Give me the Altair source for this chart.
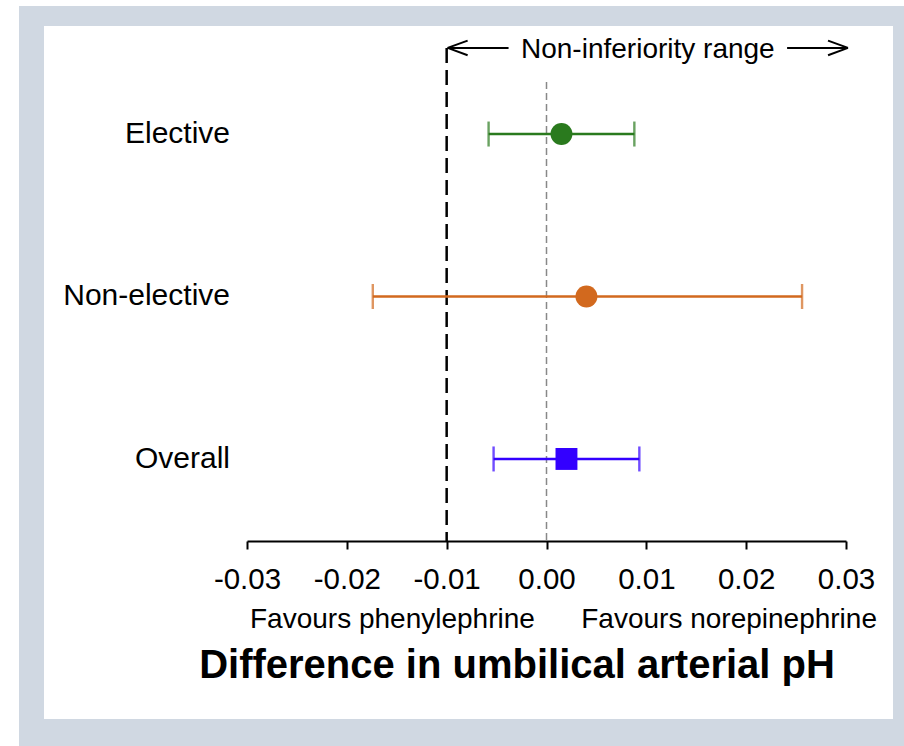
import altair as alt
import pandas as pd

# ---------------- data ----------------
groups = ["Elective", "Non-elective", "Overall"]
estimates = [0.0015, 0.0040, 0.0020]
lower = [-0.0058, -0.0174, -0.0053]
upper = [0.0088, 0.0256, 0.0093]
colors = ["#2a7a1e", "#d2691e", "#3300ff"]
shapes = ["circle", "circle", "square"]
x_ticks = [-0.03, -0.02, -0.01, 0.00, 0.01, 0.02, 0.03]
margin = -0.01
range_label = "Non-inferiority range"
favour_labels = ["Favours phenylephrine", "Favours norepinephrine"]
x_title = "Difference in umbilical arterial pH"

# ---------------- layout ----------------
FONT = "Liberation Sans"
W, H = 599, 515
LEFT, TOP, RIGHT, BOTTOM = 247, 26, 58, 205
ROW_MIN, ROW_MAX = 0.495, 3.665
ARROW_ROW = 3.53
ZERO_TOP = 3.32

xs = alt.Scale(domain=[x_ticks[0], x_ticks[-1]], nice=False, zero=False)
ys = alt.Scale(domain=[ROW_MIN, ROW_MAX], nice=False, zero=False)

x_axis = alt.Axis(
    values=x_ticks,
    labelExpr="(datum.value < 0 ? '-' : '') + format(abs(datum.value), '.2f')",
    title=x_title,
    grid=False,
    zindex=1,
    domainColor="black", domainWidth=2,
    tickColor="black", tickWidth=2, tickSize=8,
    labelFontSize=29.5, labelColor="black", labelPadding=16,
    labelFont=FONT, labelFlush=False,
    titleFont=FONT, titleFontSize=40, titleFontWeight="bold",
    titleColor="black",
    titleX=269.5, titleY=124, titleAlign="center", titleBaseline="middle",
    titleAnchor="start",
)


def X(field):
    return alt.X(field, scale=xs, axis=x_axis)


def Y(field):
    return alt.Y(field, scale=ys, axis=None)


n = len(groups)
df = pd.DataFrame({
    "group": groups,
    "est": estimates,
    "lo": lower,
    "hi": upper,
    "row": [n - i for i in range(n)],
})

color = alt.Color("group:N", scale=alt.Scale(domain=groups, range=colors), legend=None)

# background frame (gray) and white panel
bg = alt.Chart(alt.Data(values=[{}])).mark_rect(color="#d0d8e2").encode(
    x=alt.value(19 - LEFT), x2=alt.value(904 - LEFT),
    y=alt.value(6 - TOP), y2=alt.value(746 - TOP),
)
panel = alt.Chart(alt.Data(values=[{}])).mark_rect(color="white").encode(
    x=alt.value(44 - LEFT), x2=alt.value(893 - LEFT),
    y=alt.value(0), y2=alt.value(719 - TOP),
)

base = alt.Chart(df)

ci = base.mark_rule(strokeWidth=2.4).encode(
    x=X("lo:Q"), x2="hi:Q", y=Y("row:Q"), color=color,
)

caps = base.transform_fold(["lo", "hi"], as_=["end", "xv"]).mark_tick(
    orient="vertical", size=25, thickness=2.4
).encode(x=X("xv:Q"), y=Y("row:Q"), color=color)

points = base.mark_point(filled=True, opacity=1).encode(
    x=X("est:Q"), y=Y("row:Q"), color=color,
    shape=alt.Shape("group:N", scale=alt.Scale(domain=groups, range=shapes), legend=None),
    size=alt.Size("group:N", scale=alt.Scale(domain=groups, range=[480, 480, 335]), legend=None),
)

cat_labels = base.mark_text(align="right", baseline="middle", fontSize=30,
                            font=FONT, color="black").encode(
    x=alt.value(-17), y=Y("row:Q"), text="group:N",
)

# reference lines
ref = pd.DataFrame({
    "x": [margin, 0.0],
    "y": [ARROW_ROW, ZERO_TOP],
    "y2": [ROW_MIN, ROW_MIN],
})
margin_line = alt.Chart(ref.iloc[[0]]).mark_rule(
    color="black", strokeWidth=2.5, strokeDash=[15, 7]
).encode(x=X("x:Q"), y=Y("y:Q"), y2="y2:Q")
zero_line = alt.Chart(ref.iloc[[1]]).mark_rule(
    color="#888888", strokeWidth=1.5, strokeDash=[7, 4]
).encode(x=X("x:Q"), y=Y("y:Q"), y2="y2:Q")

# arrows of the non-inferiority range
l_tip, l_end = margin + 0.0001, -0.0038
r_start, r_tip = 0.0241, 0.0302
hx, hy = 0.002, 0.045
arrows = pd.DataFrame({
    "x":  [l_tip, l_tip, l_tip, r_start, r_tip, r_tip],
    "x2": [l_end, l_tip + hx, l_tip + hx, r_tip, r_tip - hx, r_tip - hx],
    "y":  [ARROW_ROW] * 6,
    "y2": [ARROW_ROW, ARROW_ROW + hy, ARROW_ROW - hy,
           ARROW_ROW, ARROW_ROW + hy, ARROW_ROW - hy],
})
arrow_lines = alt.Chart(arrows).mark_rule(color="black", strokeWidth=2).encode(
    x=X("x:Q"), x2="x2:Q", y=Y("y:Q"), y2="y2:Q",
)
range_text = alt.Chart(pd.DataFrame({"x": [(l_end + r_start) / 2], "y": [ARROW_ROW],
                                     "t": [range_label]})).mark_text(
    fontSize=28, font=FONT, color="black", baseline="middle", dy=2
).encode(x=X("x:Q"), y=Y("y:Q"), text="t:N")

fav_left = alt.Chart(alt.Data(values=[{"t": favour_labels[0]}])).mark_text(
    fontSize=28, font=FONT, color="black", align="left", baseline="middle"
).encode(x=alt.value(3), y=alt.value(620 - TOP), text="t:N")
fav_right = alt.Chart(alt.Data(values=[{"t": favour_labels[1]}])).mark_text(
    fontSize=28, font=FONT, color="black", align="right", baseline="middle"
).encode(x=alt.value(877 - LEFT), y=alt.value(620 - TOP), text="t:N")

chart = alt.layer(
    bg, panel, margin_line, zero_line, ci, caps, points, cat_labels,
    arrow_lines, range_text, fav_left, fav_right,
).properties(
    width=W, height=H,
    padding={"left": LEFT, "top": TOP, "right": RIGHT, "bottom": BOTTOM},
    autosize=alt.AutoSizeParams(type="none"),
    background="white",
).configure_view(stroke=None)

chart.save("out.html", embed_options={"renderer": "svg", "actions": False})
